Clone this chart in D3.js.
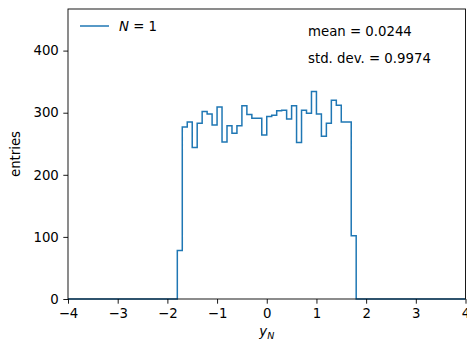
<!DOCTYPE html>
<html>
<head>
<meta charset="utf-8">
<script src="https://cdn.jsdelivr.net/npm/d3@7"></script>
<style>
  body { margin: 0; background: #fff; }
  text { font-family: "DejaVu Sans", sans-serif; }
</style>
</head>
<body>
<svg id="hist"></svg>
<script>
// histogram bins (lower edges + last upper edge) and counts
const binEdges = [-1.8, -1.7, -1.6, -1.5, -1.4, -1.3, -1.2, -1.1, -1.0, -0.9,
                  -0.8, -0.7, -0.6, -0.5, -0.4, -0.3, -0.2, -0.1, 0.0, 0.1,
                  0.2, 0.3, 0.4, 0.5, 0.6, 0.7, 0.8, 0.9, 1.0, 1.1,
                  1.2, 1.3, 1.4, 1.5, 1.6, 1.7, 1.8];
const counts = [78, 277, 285, 244, 283, 302, 298, 280, 309, 253,
                279, 267, 279, 311, 297, 291, 291, 264, 294, 296,
                303, 304, 290, 311, 252, 304, 299, 334, 298, 262,
                283, 320, 312, 285, 285, 102];
const xRange = [-4, 4];
const xTicks = [-4, -3, -2, -1, 0, 1, 2, 3, 4];
const yTicks = [0, 100, 200, 300, 400];
const statLines = ['mean = 0.0244', 'std. dev. = 0.9974'];

const width = 467, height = 341;
const margin = {top: 9, right: 1.5, bottom: 42, left: 68};
const color = '#1f77b4';

const svg = d3.select('#hist')
              .attr('width', width)
              .attr('height', height);

const x = d3.scaleLinear()
            .domain(xRange)
            .range([margin.left, width - margin.right]);

const y = d3.scaleLinear()
            .domain([0, 467])
            .range([height - margin.bottom, margin.top]);

// step outline, like histtype='step'
const pts = [[xRange[0], 0], [binEdges[0], 0]];
counts.forEach((c, i) => {
  pts.push([binEdges[i], c]);
  pts.push([binEdges[i + 1], c]);
});
pts.push([binEdges[binEdges.length - 1], 0]);
pts.push([xRange[1], 0]);

const line = d3.line()
                .x(d => x(d[0]))
                .y(d => y(d[1]));

svg.append('path')
    .datum(pts)
    .attr('fill', 'none')
    .attr('stroke', color)
    .attr('stroke-width', 1.5)
    .attr('stroke-linejoin', 'miter')
    .attr('d', line);

const fmt = d3.format('d');

const xAxis = svg.append('g')
                  .attr('transform', 'translate(0,' + (height - margin.bottom) + ')')
                  .call(d3.axisBottom(x).tickValues(xTicks).tickFormat(fmt)
                          .tickSize(4.7).tickPadding(4.5).tickSizeOuter(0));

const yAxis = svg.append('g')
                  .attr('transform', 'translate(' + margin.left + ',0)')
                  .call(d3.axisLeft(y).tickValues(yTicks).tickFormat(fmt)
                          .tickSize(4.7).tickPadding(4.5).tickSizeOuter(0));

[xAxis, yAxis].forEach(g => {
  g.selectAll('text')
    .attr('font-size', '13.3px')
    .attr('fill', '#000')
    .style('font-family', '"DejaVu Sans", sans-serif');
  g.selectAll('line').attr('stroke', '#000').attr('stroke-width', 0.9);
  g.select('.domain').remove();
});

// spines
svg.append('rect')
    .attr('x', margin.left)
    .attr('y', margin.top)
    .attr('width', width - margin.left - margin.right)
    .attr('height', height - margin.top - margin.bottom)
    .attr('fill', 'none')
    .attr('stroke', '#000')
    .attr('stroke-width', 0.9);

// axis labels
const xl = svg.append('text')
              .attr('x', x(0))
              .attr('y', 336)
              .attr('font-size', '13.3px')
              .style('text-anchor', 'middle');
xl.append('tspan').attr('font-style', 'italic').text('y');
xl.append('tspan').attr('font-style', 'italic').attr('font-size', '9.5px')
   .attr('dy', 2.5).text('N');

svg.append('text')
    .attr('transform', 'translate(20,' + ((margin.top + height - margin.bottom) / 2) + ') rotate(-90)')
    .attr('font-size', '13.3px')
    .style('text-anchor', 'middle')
    .text('entries');

// legend
svg.append('line')
    .attr('x1', 80).attr('x2', 109)
    .attr('y1', 26).attr('y2', 26)
    .attr('stroke', color)
    .attr('stroke-width', 1.5);

const lg = svg.append('text')
              .attr('x', 119)
              .attr('y', 31)
              .attr('font-size', '13.3px');
lg.append('tspan').attr('font-style', 'italic').text('N');
lg.append('tspan').text(' = 1');

// stats text
svg.selectAll('.stat')
    .data(statLines)
    .enter()
    .append('text')
      .classed('stat', true)
      .attr('x', 308)
      .attr('y', (d, i) => 36 + i * 26.5)
      .attr('font-size', '13.3px')
      .text(d => d);
</script>
</body>
</html>
